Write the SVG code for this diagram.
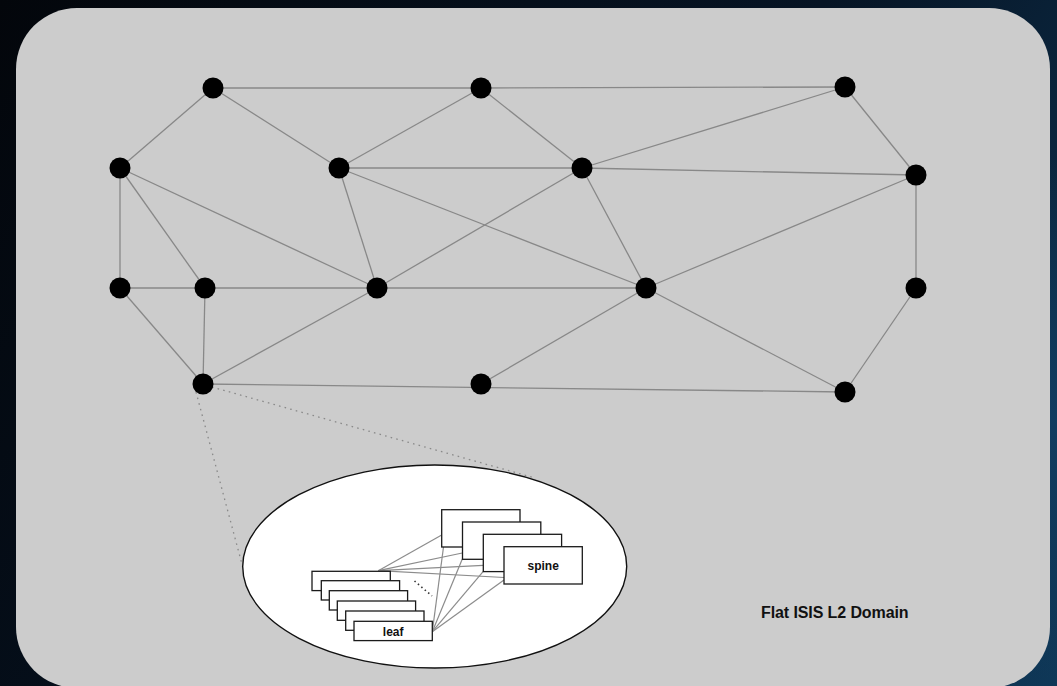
<svg xmlns="http://www.w3.org/2000/svg" width="1057" height="686" viewBox="0 0 1057 686">
  <defs>
    <linearGradient id="bg" x1="0" y1="0" x2="1057" y2="686" gradientUnits="userSpaceOnUse">
      <stop offset="0" stop-color="#03060b"/>
      <stop offset="0.55" stop-color="#061424"/>
      <stop offset="1" stop-color="#0f3858"/>
    </linearGradient>
    <radialGradient id="glow" cx="1057" cy="420" r="260" gradientUnits="userSpaceOnUse">
      <stop offset="0" stop-color="#124066" stop-opacity="0.8"/>
      <stop offset="1" stop-color="#124066" stop-opacity="0"/>
    </radialGradient>
    <style>
      .edge { stroke: #888888; stroke-width: 1.3; fill: none; }
      .zoom { stroke: #8a8a8a; stroke-width: 1.3; stroke-dasharray: 1.6 4.2; fill: none; }
      .node { fill: #000000; }
      .box { fill: #ffffff; stroke: #1a1a1a; stroke-width: 1.3; }
      .link { stroke: #8c8c8c; stroke-width: 1.2; fill: none; }
      .lbl { font-family: "Liberation Sans", Arial, sans-serif; font-weight: bold; fill: #111111; }
    </style>
  </defs>

  <!-- backdrop and panel -->
  <rect x="0" y="0" width="1057" height="686" fill="url(#bg)"/>
  <rect x="0" y="0" width="1057" height="686" fill="url(#glow)"/>
  <rect x="16" y="8" width="1034" height="680" rx="61" ry="61" fill="#cccccc"/>

  <!-- connectors -->
  <g id="connectors">
    <line class="edge" x1="213" y1="88" x2="481" y2="88"/>
    <line class="edge" x1="481" y1="88" x2="845" y2="87"/>
    <line class="edge" x1="213" y1="88" x2="120" y2="168"/>
    <line class="edge" x1="213" y1="88" x2="339" y2="168"/>
    <line class="edge" x1="481" y1="88" x2="339" y2="168"/>
    <line class="edge" x1="481" y1="88" x2="582" y2="168"/>
    <line class="edge" x1="845" y1="87" x2="582" y2="168"/>
    <line class="edge" x1="845" y1="87" x2="916" y2="175"/>
    <line class="edge" x1="120" y1="168" x2="120" y2="288"/>
    <line class="edge" x1="120" y1="168" x2="205" y2="288"/>
    <line class="edge" x1="120" y1="168" x2="377" y2="288"/>
    <line class="edge" x1="339" y1="168" x2="582" y2="168"/>
    <line class="edge" x1="339" y1="168" x2="377" y2="288"/>
    <line class="edge" x1="339" y1="168" x2="646" y2="288"/>
    <line class="edge" x1="582" y1="168" x2="916" y2="175"/>
    <line class="edge" x1="582" y1="168" x2="377" y2="288"/>
    <line class="edge" x1="582" y1="168" x2="646" y2="288"/>
    <line class="edge" x1="916" y1="175" x2="646" y2="288"/>
    <line class="edge" x1="916" y1="175" x2="916" y2="288"/>
    <line class="edge" x1="120" y1="288" x2="205" y2="288"/>
    <line class="edge" x1="120" y1="288" x2="203" y2="384"/>
    <line class="edge" x1="205" y1="288" x2="377" y2="288"/>
    <line class="edge" x1="205" y1="288" x2="203" y2="384"/>
    <line class="edge" x1="377" y1="288" x2="646" y2="288"/>
    <line class="edge" x1="377" y1="288" x2="203" y2="384"/>
    <line class="edge" x1="646" y1="288" x2="481" y2="384"/>
    <line class="edge" x1="646" y1="288" x2="845" y2="392"/>
    <line class="edge" x1="916" y1="288" x2="845" y2="392"/>
    <line class="edge" x1="203" y1="384" x2="845" y2="392"/>
    <!-- zoom-in guides from the expanded node -->
    <line class="zoom" x1="196" y1="392" x2="243" y2="568"/>
    <line class="zoom" x1="212" y1="387" x2="535" y2="478"/>
  </g>

  <!-- routers -->
  <g id="nodes">
    <circle id="n-a" class="node" cx="213" cy="88" r="10.5"/>
    <circle id="n-b" class="node" cx="481" cy="88" r="10.5"/>
    <circle id="n-c" class="node" cx="845" cy="87" r="10.5"/>
    <circle id="n-d" class="node" cx="120" cy="168" r="10.5"/>
    <circle id="n-e" class="node" cx="339" cy="168" r="10.5"/>
    <circle id="n-f" class="node" cx="582" cy="168" r="10.5"/>
    <circle id="n-g" class="node" cx="916" cy="175" r="10.5"/>
    <circle id="n-h" class="node" cx="120" cy="288" r="10.5"/>
    <circle id="n-i" class="node" cx="205" cy="288" r="10.5"/>
    <circle id="n-j" class="node" cx="377" cy="288" r="10.5"/>
    <circle id="n-k" class="node" cx="646" cy="288" r="10.5"/>
    <circle id="n-l" class="node" cx="916" cy="288" r="10.5"/>
    <circle id="n-m" class="node" cx="203" cy="384" r="10.5"/>
    <circle id="n-n" class="node" cx="481" cy="384" r="10.5"/>
    <circle id="n-o" class="node" cx="845" cy="392" r="10.5"/>
  </g>

  <!-- expanded view: leaf/spine fabric -->
  <g id="fabric">
    <ellipse cx="434.7" cy="566.5" rx="192" ry="101.5" fill="#ffffff" stroke="#111111" stroke-width="1.4"/>

    <g id="fabric-links">
      <line class="link" x1="378.3" y1="570.7" x2="441.7" y2="535"/>
      <line class="link" x1="378.3" y1="570.7" x2="462.3" y2="553"/>
      <line class="link" x1="378.3" y1="570.7" x2="483.3" y2="565.3"/>
      <line class="link" x1="378.3" y1="570.7" x2="504" y2="577.5"/>
      <line class="link" x1="432.3" y1="631.7" x2="443.5" y2="547"/>
      <line class="link" x1="432.3" y1="631.7" x2="462.3" y2="559"/>
      <line class="link" x1="432.3" y1="631.7" x2="483.3" y2="571.3"/>
      <line class="link" x1="432.3" y1="631.7" x2="504" y2="580"/>
    </g>

    <g id="spines">
      <rect class="box" x="441.7" y="509.7" width="78.3" height="37.3"/>
      <rect class="box" x="462.5" y="522" width="78.3" height="37.3"/>
      <rect class="box" x="483.3" y="534.3" width="78.3" height="37.3"/>
      <rect class="box" x="504" y="546.7" width="78.3" height="37.3"/>
      <text class="lbl" x="543.2" y="570" font-size="12" text-anchor="middle">spine</text>
    </g>

    <g id="leaves">
      <rect class="box" x="312" y="571.3" width="78.3" height="19.3"/>
      <rect class="box" x="321.3" y="580.7" width="78.3" height="19.3"/>
      <rect class="box" x="329.3" y="590.7" width="78.3" height="19.3"/>
      <rect class="box" x="337.3" y="601" width="78.3" height="19.3"/>
      <rect class="box" x="345.7" y="611" width="78.3" height="19.3"/>
      <rect class="box" x="354" y="621.3" width="78.3" height="19.3"/>
      <text class="lbl" x="393.2" y="636" font-size="12" text-anchor="middle">leaf</text>
    </g>

    <line x1="414.5" y1="581" x2="432" y2="596" stroke="#333333" stroke-width="1.6" stroke-dasharray="1.5 3"/>
  </g>

  <text class="lbl" x="761" y="617.5" font-size="16" letter-spacing="-0.1">Flat ISIS L2 Domain</text>
</svg>
